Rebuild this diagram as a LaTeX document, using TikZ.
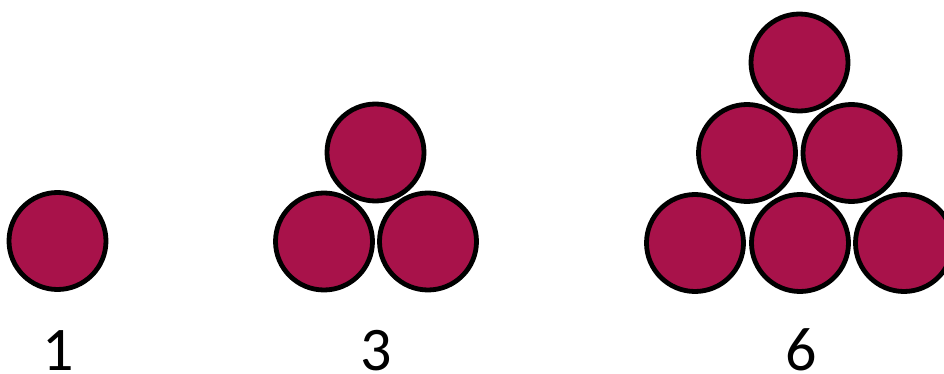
\documentclass[tikz,border=0pt]{standalone}
\usepackage{fontspec}
\setmainfont{Carlito}
\definecolor{ball}{RGB}{168,18,74}
\begin{document}
\begin{tikzpicture}[x=1pt,y=-1pt,
  ball/.style={circle,draw=black,line width=4.8pt,fill=ball,inner sep=0pt,minimum size=97pt},
  count/.style={anchor=base,inner sep=0pt,font=\fontsize{62}{70}\selectfont}]
\useasboundingbox (0,0) rectangle (944,374);
% one ball
\node[ball] (a1) at (57.5,241) {};
% three balls
\node[ball] (b1) at (324,241.5) {};
\node[ball] (b2) at (428,241.5) {};
\node[ball] (b3) at (375.5,152.5) {};
% six balls
\node[ball] (c1) at (695,243) {};
\node[ball] (c2) at (800,243) {};
\node[ball] (c3) at (904,243) {};
\node[ball] (c4) at (747,153) {};
\node[ball] (c5) at (851.5,153) {};
\node[ball] (c6) at (799.5,62.5) {};
% counts
\node[count] (n1) at (58,370) {1};
\node[count] (n3) at (376,370) {3};
\node[count] (n6) at (801,370) {6};
\end{tikzpicture}
\end{document}
